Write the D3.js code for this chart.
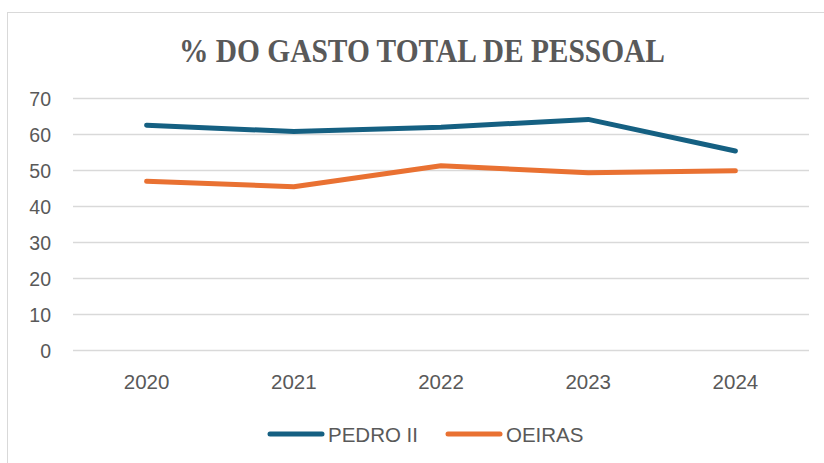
<!DOCTYPE html>
<html>
<head>
<meta charset="utf-8">
<script src="https://cdn.jsdelivr.net/npm/d3@7"></script>
<style>
  html, body { margin: 0; padding: 0; background: #fff; }
  svg { display: block; }
</style>
</head>
<body>
<svg id="chart" width="824" height="463"></svg>
<script>
const title = "% DO GASTO TOTAL DE PESSOAL";
const categories = ["2020", "2021", "2022", "2023", "2024"];
const seriesNames = ["PEDRO II", "OEIRAS"];
const pedroII = [62.6, 60.8, 62.0, 64.2, 55.4];
const oeiras = [47.0, 45.5, 51.3, 49.4, 49.9];
const yTicks = [0, 10, 20, 30, 40, 50, 60, 70];
const colors = ["#156082", "#E97132"];

const svg = d3.select("#chart");
const W = 824, H = 463;

// chart border
svg.append("rect")
  .attr("x", 7.5).attr("y", 12.5)
  .attr("width", W + 20).attr("height", H + 20)
  .attr("fill", "#fff").attr("stroke", "#d9d9d9").attr("stroke-width", 1);

const plot = { left: 73, right: 809, top: 98.5, bottom: 350.5 };

const x = d3.scaleBand().domain(categories).range([plot.left, plot.right]);
const y = d3.scaleLinear().domain([0, 70]).range([plot.bottom, plot.top]);

// title
svg.append("text")
  .attr("x", 422).attr("y", 62)
  .attr("text-anchor", "middle")
  .attr("font-family", "'Liberation Serif', 'Times New Roman', serif")
  .attr("font-weight", "bold")
  .attr("font-size", 33)
  .attr("fill", "#595959")
  .attr("textLength", 486)
  .attr("lengthAdjust", "spacingAndGlyphs")
  .text(title);

// gridlines
svg.append("g")
  .selectAll("line")
  .data(yTicks)
  .join("line")
  .attr("x1", plot.left).attr("x2", plot.right)
  .attr("y1", d => y(d)).attr("y2", d => y(d))
  .attr("stroke", "#d9d9d9").attr("stroke-width", 1.3);

const fontSans = "'Liberation Sans', Arial, sans-serif";

// y axis labels
const yAxis = d3.axisLeft(y).tickValues(yTicks).tickSize(0).tickPadding(0);
const gy = svg.append("g").attr("transform", `translate(51,0)`).call(yAxis);
gy.select(".domain").remove();
gy.selectAll("text")
  .attr("font-family", fontSans)
  .attr("font-size", 19.5)
  .attr("dy", "0.36em")
  .attr("fill", "#595959");

// x axis labels
const xAxis = d3.axisBottom(x).tickSize(0).tickPadding(0);
const gx = svg.append("g").attr("transform", `translate(0,389)`).call(xAxis);
gx.select(".domain").remove();
gx.selectAll("text")
  .attr("y", 0).attr("dy", 0)
  .attr("font-family", fontSans)
  .attr("font-size", 20.5)
  .attr("fill", "#595959");

// lines
const line = d3.line()
  .x((d, i) => x(categories[i]) + x.bandwidth() / 2)
  .y(d => y(d));

const data = [pedroII, oeiras];
svg.append("g")
  .selectAll("path")
  .data(data)
  .join("path")
  .attr("d", d => line(d))
  .attr("fill", "none")
  .attr("stroke", (d, i) => colors[i])
  .attr("stroke-width", 5)
  .attr("stroke-linecap", "round")
  .attr("stroke-linejoin", "round");

// legend
const legendItems = [
  { name: seriesNames[0], color: colors[0], x: 270 },
  { name: seriesNames[1], color: colors[1], x: 448 }
];
const lg = svg.append("g");
legendItems.forEach(it => {
  lg.append("line")
    .attr("x1", it.x).attr("x2", it.x + 52)
    .attr("y1", 434).attr("y2", 434)
    .attr("stroke", it.color).attr("stroke-width", 5)
    .attr("stroke-linecap", "round");
  lg.append("text")
    .attr("x", it.x + 58).attr("y", 441.8)
    .attr("font-family", fontSans)
    .attr("font-size", 20.5)
    .attr("fill", "#595959")
    .text(it.name);
});
</script>
</body>
</html>
